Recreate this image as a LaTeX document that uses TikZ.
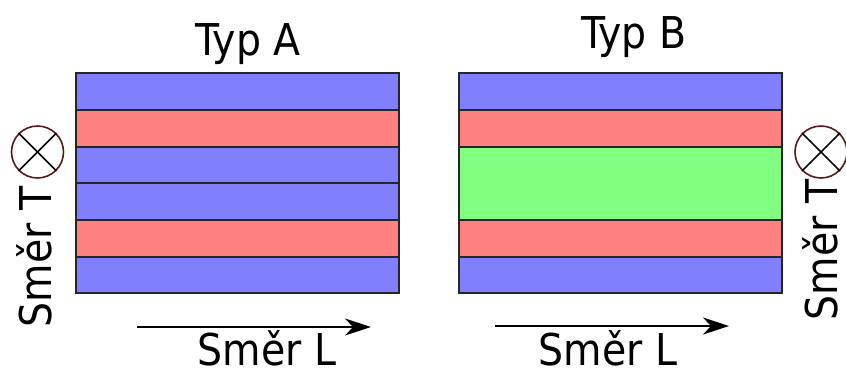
\documentclass[tikz,border=0pt]{standalone}
\usepackage{fontspec}
\setmainfont{DejaVu Sans Condensed}
\usetikzlibrary{arrows.meta}
\definecolor{layerblue}{HTML}{8080FF}
\definecolor{layerred}{HTML}{FF8080}
\definecolor{layergreen}{HTML}{80FF80}
\definecolor{ringred}{HTML}{5A1A1A}
\tikzset{
  layer/.style={draw=black!85, line width=1.3bp, inner sep=0pt, outer sep=0pt,
    minimum width=323bp, anchor=north west},
  lbl/.style={font=\fontsize{44}{50}\selectfont, inner sep=0pt},
  dirarrow/.style={line width=1.5bp, -{Stealth[length=26bp,width=17bp,inset=8bp]}},
  ring/.style={draw=ringred, line width=1.6bp, circle, inner sep=0pt},
  cross/.style={line width=1.7bp, black},
}
\begin{document}
\begin{tikzpicture}[x=1bp, y=-1bp]
\useasboundingbox (0,0) rectangle (846,374);

% ---- Type A: six layers ----
\node[layer, fill=layerblue, minimum height=37bp] (a1) at (76,73) {};
\node[layer, fill=layerred,  minimum height=37bp] (a2) at (76,110) {};
\node[layer, fill=layerblue, minimum height=36bp] (a3) at (76,147) {};
\node[layer, fill=layerblue, minimum height=37bp] (a4) at (76,183) {};
\node[layer, fill=layerred,  minimum height=37bp] (a5) at (76,220) {};
\node[layer, fill=layerblue, minimum height=36bp] (a6) at (76,257) {};

% ---- Type B: five layers, thick green core ----
\node[layer, fill=layerblue,  minimum height=37bp] (b1) at (459,73) {};
\node[layer, fill=layerred,   minimum height=37bp] (b2) at (459,110) {};
\node[layer, fill=layergreen, minimum height=73bp] (b3) at (459,147) {};
\node[layer, fill=layerred,   minimum height=37bp] (b4) at (459,220) {};
\node[layer, fill=layerblue,  minimum height=36bp] (b5) at (459,257) {};

% ---- titles ----
\node[lbl, anchor=base] (ta) at (248,55) {Typ A};
\node[lbl, anchor=base] (tb) at (634,48) {Typ B};

% ---- longitudinal direction ----
\coordinate (la0) at (137,327);
\coordinate (la1) at (371,327);
\draw[dirarrow] (la0) -- (la1);
\node[lbl, anchor=base] (sla) at (267,365) {Směr L};

\coordinate (lb0) at (495,326);
\coordinate (lb1) at (729,326);
\draw[dirarrow] (lb0) -- (lb1);
\node[lbl, anchor=base] (slb) at (608,365) {Směr L};

% ---- transverse direction (into the page) ----
\node[ring, minimum size=52bp] (ca) at (37.5,152) {};
\draw[cross] (ca.north west) -- (ca.south east);
\draw[cross] (ca.north east) -- (ca.south west);
\node[lbl, rotate=90, anchor=base] (sta) at (51,257) {Směr T};

\node[ring, minimum size=52bp] (cb) at (821,152) {};
\draw[cross] (cb.north west) -- (cb.south east);
\draw[cross] (cb.north east) -- (cb.south west);
\node[lbl, rotate=90, anchor=base] (stb) at (837,250) {Směr T};
\end{tikzpicture}
\end{document}
